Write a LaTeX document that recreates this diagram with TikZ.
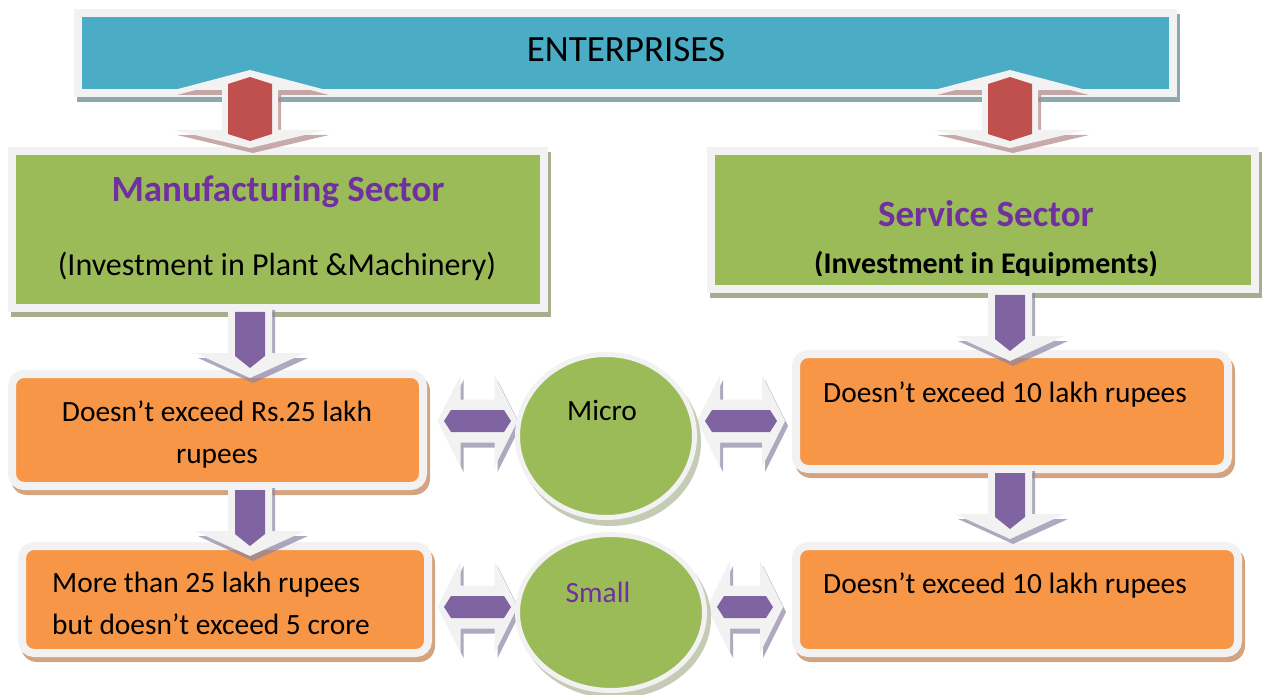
\documentclass[tikz,border=0pt]{standalone}
\usepackage{fontspec}
\setmainfont{Carlito}
\usetikzlibrary{shapes.geometric}

\definecolor{entblue}{HTML}{4BACC6}
\definecolor{secgreen}{HTML}{9BBB59}
\definecolor{limorange}{HTML}{F79646}
\definecolor{linkred}{HTML}{C0504D}
\definecolor{linkpurple}{HTML}{8064A2}
\definecolor{headpurple}{HTML}{7030A0}
\definecolor{rim}{HTML}{F2F2F2}
\definecolor{shblue}{HTML}{8DA8AE}
\definecolor{shgreen}{HTML}{A6AE8E}
\definecolor{shorange}{HTML}{D3A47F}
\definecolor{shred}{HTML}{B08686}
\definecolor{shpurple}{HTML}{8C84A4}
\definecolor{shblob}{HTML}{9FAA84}

\pgfdeclarelayer{bg}
\pgfsetlayers{bg,main}

\tikzset{
  x=1pt, y=-1pt,
  panel/.style={rectangle, draw=rim, line width=8pt, inner sep=0pt},
  limitbox/.style={rectangle, draw=rim, line width=8pt, fill=limorange,
    rounded corners=12pt, inner sep=0pt},
  blob/.style={ellipse, draw=rim, line width=5pt, fill=secgreen, inner sep=0pt},
  txt/.style={inner sep=0pt, font=\fontsize{29.4}{35}\selectfont},
  headtxt/.style={inner sep=0pt, text=headpurple,
    font=\fontsize{37}{44}\selectfont\bfseries},
  rimfill/.style={fill=rim},
}

% shadow of a box, offset down and right
\newcommand\boxshadow[3]{%
  \begin{pgfonlayer}{bg}
    \fill[#2, rounded corners=#3] ([shift={(3pt,-5pt)}]#1.south west)
      rectangle ([shift={(3pt,-5pt)}]#1.north east);
  \end{pgfonlayer}}

% vertical two-headed red link, centred on #1
\newcommand\rimdoublev{(0,-39) -- (76,-19) -- (28,-19) -- (28,21) -- (76,21)
  -- (0,39) -- (-76,21) -- (-28,21) -- (-28,-19) -- (-76,-19) -- cycle}
\newcommand\redlink[1]{%
  \begin{scope}[shift={(#1)}]
    \fill[shred, opacity=.7, shift={(3,5)}] \rimdoublev;
    \fill[rimfill] \rimdoublev;
    \fill[linkred] (0,-32) -- (22,-25) -- (22,25) -- (0,32) -- (-22,25)
      -- (-22,-25) -- cycle;
  \end{scope}}

% downward purple link, #1 = top of the purple shaft
\newcommand\rimdown{(-22,-7) -- (22,-7) -- (22,41) -- (55,41) -- (0,66)
  -- (-55,41) -- (-22,41) -- cycle}
\newcommand\downlink[1]{%
  \begin{scope}[shift={(#1)}]
    \fill[shpurple, opacity=.7, shift={(3,5)}] \rimdown;
    \fill[rimfill] \rimdown;
    \fill[linkpurple] (-15,0) -- (15,0) -- (15,44) -- (0,56) -- (-15,44) -- cycle;
  \end{scope}}

% horizontal two-headed purple link: #1 centre, #2 outer half length, #3 inner half length
\newcommand\rimdoubleh[1]{(-#1,0) -- (-#1+23,-46) -- (-#1+23,-21.5)
  -- (#1-23,-21.5) -- (#1-23,-46) -- (#1,0) -- (#1-23,46) -- (#1-23,21.5)
  -- (-#1+23,21.5) -- (-#1+23,46) -- cycle}
\newcommand\sidelink[3]{%
  \begin{scope}[shift={(#1)}]
    \fill[shpurple, opacity=.7, shift={(3,5)}] \rimdoubleh{#2};
    \fill[rimfill] \rimdoubleh{#2};
    \fill[linkpurple] (-#3,0) -- (-#3+7,-11) -- (#3-7,-11) -- (#3,0)
      -- (#3-7,11) -- (-#3+7,11) -- cycle;
  \end{scope}}

\begin{document}
\begin{tikzpicture}
\useasboundingbox (0,0) rectangle (1262,695);

% header and sector panels
\node[panel, fill=entblue, minimum width=1095pt, minimum height=80pt] (ent) at (625.5,53) {};
\node[panel, fill=secgreen, minimum width=532pt, minimum height=157pt] (mfg) at (278,229.5) {};
\node[panel, fill=secgreen, minimum width=544pt, minimum height=138pt] (svc) at (983,220) {};

% investment limit boxes
\node[limitbox, minimum width=411pt, minimum height=112pt] (mfgmicro) at (217.5,430) {};
\node[limitbox, minimum width=406pt, minimum height=107pt] (mfgsmall) at (225,599.5) {};
\node[limitbox, minimum width=432pt, minimum height=115pt] (svcmicro) at (1012,411.5) {};
\node[limitbox, minimum width=442pt, minimum height=107pt] (svcsmall) at (1017,599.5) {};

\boxshadow{ent}{shblue}{0pt}
\boxshadow{mfg}{shgreen}{0pt}
\boxshadow{svc}{shgreen}{0pt}
\boxshadow{mfgmicro}{shorange}{16pt}
\boxshadow{mfgsmall}{shorange}{16pt}
\boxshadow{svcmicro}{shorange}{16pt}
\boxshadow{svcsmall}{shorange}{16pt}

% links
\coordinate (rl) at (250,109);
\coordinate (rr) at (1010,109);
\redlink{rl}
\redlink{rr}

\coordinate (dl1) at (250,312);
\coordinate (dl2) at (250,490);
\coordinate (dr1) at (1010,295);
\coordinate (dr2) at (1010,473);
\downlink{dl1}
\downlink{dl2}
\downlink{dr1}
\downlink{dr2}

\coordinate (hml) at (477.5,421);
\coordinate (hmr) at (741,421);
\coordinate (hsl) at (477.5,607);
\coordinate (hsr) at (745,607);
\sidelink{hml}{40}{33.5}
\sidelink{hmr}{44}{36}
\sidelink{hsl}{40}{33.5}
\sidelink{hsr}{38}{28}

% size categories
\fill[shblob, opacity=.6] (610,442) ellipse [x radius=91, y radius=84];
\node[blob, minimum width=177pt, minimum height=163pt] (micro) at (606,436) {};
\fill[shblob, opacity=.6] (615,618) ellipse [x radius=96, y radius=80.5];
\node[blob, minimum width=187pt, minimum height=156pt] (small) at (611,612.5) {};

% texts
\node[txt, anchor=base, font=\fontsize{37}{44}\selectfont] (tent) at (626,62) {ENTERPRISES};
\node[headtxt, anchor=base] (tmfg) at (278,202) {Manufacturing Sector};
\node[txt, anchor=base, font=\fontsize{32}{38}\selectfont] (tmfgsub) at (277,276) {(Investment in Plant \&Machinery)};
\node[headtxt, anchor=base] (tsvc) at (986,227) {Service Sector};
\begin{scope}
  % the subtitle line is cut just under its baseline
  \clip (700,140) rectangle (1262,276);
  \node[txt, anchor=base, font=\fontsize{30}{36}\selectfont\bfseries] (tsvcsub) at (986,274) {(Investment in Equipments)};
\end{scope}

\node[txt, anchor=base] (tmm1) at (217,421) {Doesn’t exceed Rs.25 lakh};
\node[txt, anchor=base] (tmm2) at (217,463) {rupees};
\node[txt, anchor=base west] (tms1) at (52,592) {More than 25 lakh rupees};
\node[txt, anchor=base west] (tms2) at (52,634) {but doesn’t exceed 5 crore};
\node[txt, anchor=base west] (tsm) at (823,402) {Doesn’t exceed 10 lakh rupees};
\node[txt, anchor=base west] (tss) at (823,593) {Doesn’t exceed 10 lakh rupees};
\node[txt, anchor=base] (tmicro) at (602,420) {Micro};
\node[txt, anchor=base, text=headpurple] (tsmall) at (598,602) {Small};
\end{tikzpicture}
\end{document}
